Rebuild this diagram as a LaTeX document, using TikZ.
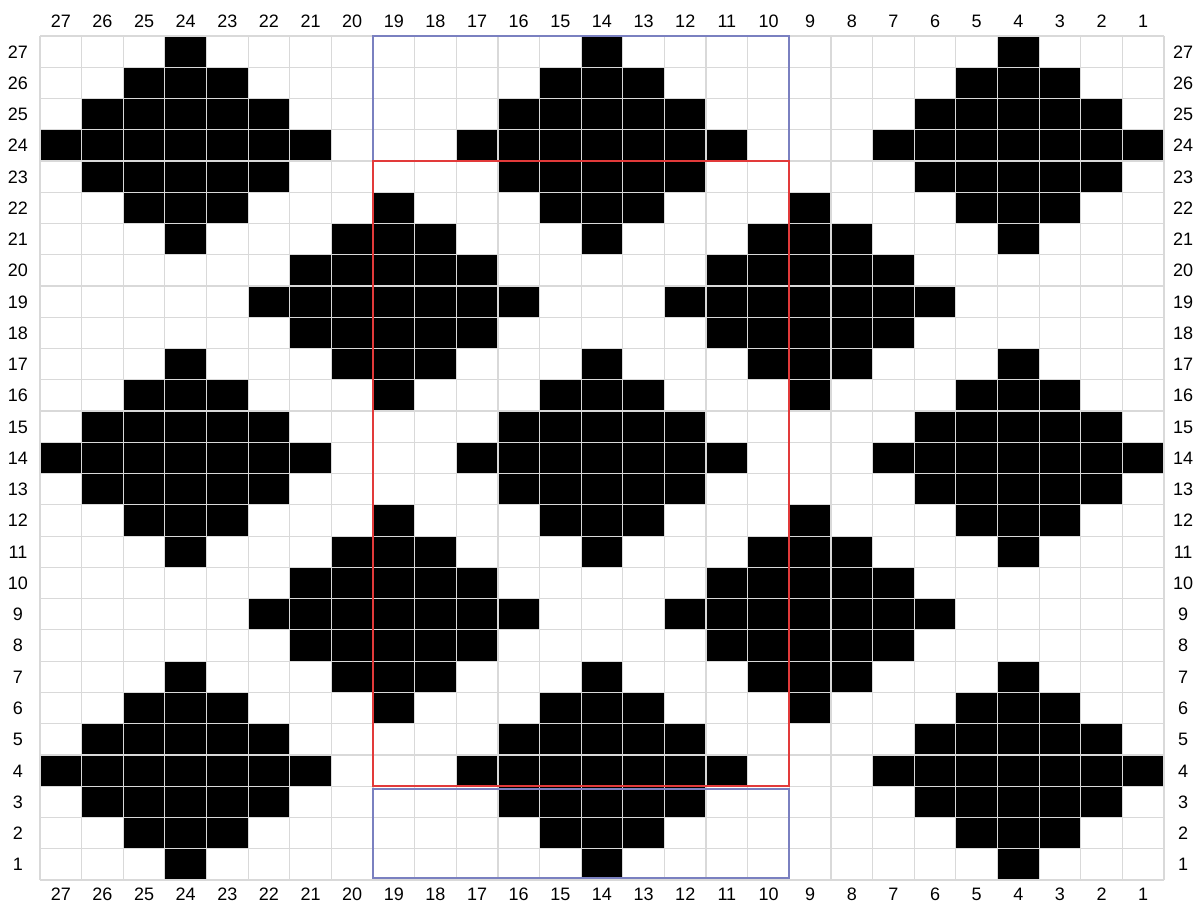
\documentclass[tikz,border=0pt]{standalone}
\usepackage{fontspec}
\setmainfont{Liberation Sans}

\definecolor{frameblue}{HTML}{7A80C0}
\definecolor{framered}{HTML}{E23A3A}
\definecolor{gridgray}{HTML}{D9D9D9}

\begin{document}
\begin{tikzpicture}[x=41.63pt, y=31.26pt,
  lbl/.style={font=\fontsize{18}{21}\selectfont, inner sep=0pt,
    text height=12.9pt, text depth=0pt},
  gridline/.style={gridgray, line width=1.2pt},
  frame/.style={line width=1.8pt}]
\useasboundingbox (-0.961,-0.768) rectangle (27.697,28.151);
% black diamonds
\foreach \cx/\cy in {3/23,13/23,23/23,3/13,13/13,23/13,3/3,13/3,23/3,8/18,18/18,8/8,18/8}
  \foreach \d in {-3,...,3} {
    \pgfmathtruncatemacro\k{3-abs(\d)}
    \fill ({\cx-\k},{\cy+\d}) rectangle ({\cx+\k+1},{\cy+\d+1});
  }
% grid
\foreach \i in {0,...,27} {
  \draw[gridline] (\i,0) -- (\i,27);
  \draw[gridline] (0,\i) -- (27,\i);
}
% numbers
\foreach \i in {0,...,26} {
  \pgfmathtruncatemacro\n{27-\i}
  \pgfmathtruncatemacro\r{\i+1}
  \node[lbl] (ct\n) at (\i+0.5,27.48) {\n};
  \node[lbl] (cb\n) at (\i+0.5,-0.45) {\n};
  \node[lbl] (rl\r) at (-0.53,\i+0.5) {\r};
  \node[lbl] (rr\r) at (27.46,\i+0.5) {\r};
}
% frames
\draw[frame, frameblue] (8,23) rectangle (18,27);
\draw[frame, frameblue] (8,0.06) rectangle (18,2.9);
\draw[frame, framered] (8,3) rectangle (18,23);
\end{tikzpicture}
\end{document}
